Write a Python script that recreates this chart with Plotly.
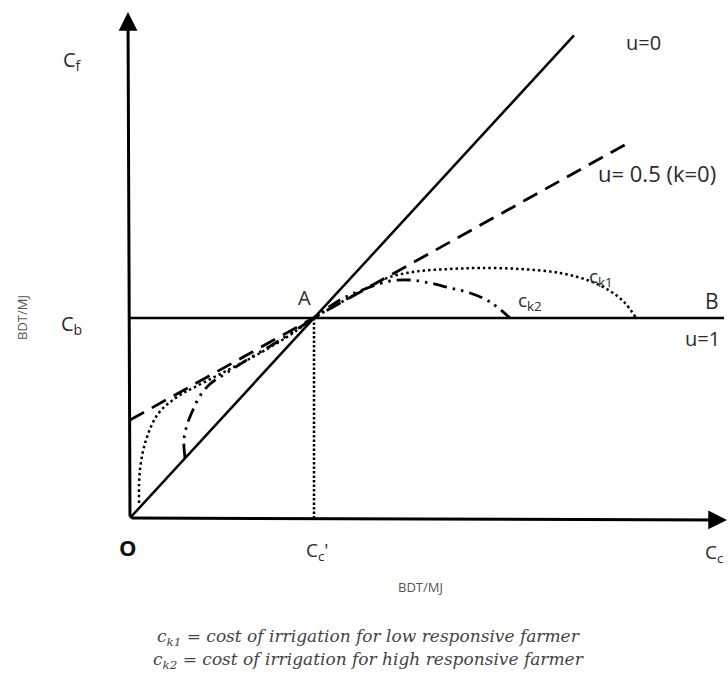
import plotly.graph_objects as go

# ---- data (units: C_c' = 1 on x, C_b = 1 on y) ----
u0_x = [0.0, 2.413]
u0_y = [0.0, 2.413]

u05_x = [0.0, 2.707]
u05_y = [0.49, 1.875]

u1_x = [0.0, 3.228]
u1_y = [1.0, 1.0]

ck1_x = [0.049, 0.054, 0.087, 0.152, 0.255, 0.364, 0.543, 0.707, 0.870, 1.0,
         1.141, 1.277, 1.413, 1.576, 1.739, 1.902, 2.12, 2.337, 2.5, 2.609, 2.69, 2.75]
ck1_y = [0.075, 0.24, 0.39, 0.52, 0.605, 0.66, 0.745, 0.825, 0.915, 1.0,
         1.075, 1.145, 1.205, 1.235, 1.245, 1.25, 1.245, 1.225, 1.185, 1.135, 1.075, 1.0]

ck2_x = [0.299, 0.293, 0.31, 0.342, 0.38, 0.435, 0.516, 0.652, 0.799, 1.0,
         1.141, 1.277, 1.413, 1.522, 1.63, 1.739, 1.848, 1.957, 2.065]
ck2_y = [0.30, 0.39, 0.465, 0.54, 0.61, 0.67, 0.72, 0.80, 0.88, 1.0,
         1.09, 1.145, 1.185, 1.19, 1.175, 1.15, 1.125, 1.08, 1.0]

drop_x = [1.0, 1.0]
drop_y = [1.0, 0.0]

# ---- page geometry ----
W, H = 728, 677
OX, OY = 130, 518      # pixel of origin
SX, SY = 184, 200      # pixels per unit


def P(px, py):
    return (px - OX) / SX, (OY - py) / SY


fig = go.Figure()

fig.add_trace(go.Scatter(x=u0_x, y=u0_y, mode="lines",
                         line=dict(color="black", width=2.5)))
fig.add_trace(go.Scatter(x=u05_x, y=u05_y, mode="lines",
                         line=dict(color="black", width=2.8, dash="16px,9px")))
fig.add_trace(go.Scatter(x=u1_x, y=u1_y, mode="lines",
                         line=dict(color="black", width=2.5)))
fig.add_trace(go.Scatter(x=drop_x, y=drop_y, mode="lines",
                         line=dict(color="black", width=2.5, dash="2.5px,2px")))
fig.add_trace(go.Scatter(x=ck1_x, y=ck1_y, mode="lines",
                         line=dict(color="black", width=2.5, dash="2.5px,3px", shape="spline")))
fig.add_trace(go.Scatter(x=ck2_x, y=ck2_y, mode="lines",
                         line=dict(color="black", width=2.8, dash="14px,6px,2.5px,6px,2.5px,6px",
                                   shape="spline")))

# axes with arrows
x0, y0 = P(OX, OY)
xt, yt = P(727, 520)
yx, yy = P(128, 12)
for (tx, ty) in [(xt, yt), (yx, yy)]:
    fig.add_annotation(x=tx, y=ty, ax=x0, ay=y0, xref="x", yref="y", axref="x", ayref="y",
                       showarrow=True, arrowhead=2, arrowsize=1.25, arrowwidth=3,
                       arrowcolor="black", text="")

TXT = "#2a2a2a"
FONT = "Open Sans"


def label(px, py, text, size=16, color=TXT, family=FONT, angle=0):
    x, y = P(px, py)
    fig.add_annotation(x=x, y=y, xref="x", yref="y", text=text, showarrow=False,
                       textangle=angle, font=dict(family=family, size=size, color=color),
                       xanchor="center", yanchor="middle")


label(72, 60, "C<sub>f</sub>", 20)
label(71, 324, "C<sub>b</sub>", 20)
label(22, 318, "BDT/MJ", 13, "#555555", angle=-90)
label(304, 297, "A", 20)
label(712, 301, "B", 21)
label(702, 338, "u=1", 20)
label(643, 42, "u=0", 20)
label(657, 173, "u= 0.5 (k=0)", 22)
label(601, 277, "c<sub>k1</sub>", 19)
label(530, 301, "c<sub>k2</sub>", 19)
label(128, 547, "<b>O</b>", 22, "#111111")
label(317, 551, "C<sub>c</sub>'", 19)
label(714, 553, "C<sub>c</sub>", 19)
label(420, 587, "BDT/MJ", 13, "#555555")
label(368, 637, "<i>c<sub>k1</sub> = cost of irrigation for low responsive farmer</i>", 17,
      "#444444", "DejaVu Serif")
label(368, 660, "<i>c<sub>k2</sub> = cost of irrigation for high responsive farmer</i>", 17,
      "#444444", "DejaVu Serif")

xr0, _ = P(0, 0)
xr1, _ = P(W, 0)
_, yr1 = P(0, 0)
_, yr0 = P(0, H)

fig.update_layout(
    width=W, height=H, margin=dict(l=0, r=0, t=0, b=0),
    paper_bgcolor="white", plot_bgcolor="white", showlegend=False,
    xaxis=dict(range=[xr0, xr1], visible=False, fixedrange=True),
    yaxis=dict(range=[yr0, yr1], visible=False, fixedrange=True),
)

fig.write_html("out.html")
